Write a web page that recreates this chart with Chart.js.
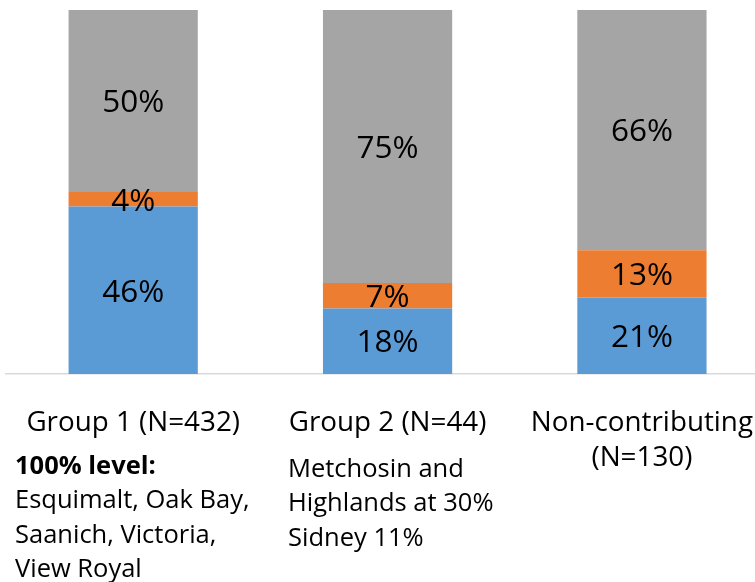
<!DOCTYPE html>
<html>
<head>
<meta charset="utf-8">
<script src="https://cdn.jsdelivr.net/npm/chart.js@4"></script>
<style>
  html, body { margin: 0; padding: 0; background: #fff; overflow: hidden; }
  #wrap { width: 776px; height: 582px; }
</style>
</head>
<body>
<div id="wrap"><canvas id="chart"></canvas></div>
<script>
/* participation by group, stacked to 100% */
const groups = ['Group 1 (N=432)', 'Group 2 (N=44)', ['Non-contributing', '(N=130)']];
const blueVals = [46, 18, 21];
const orangeVals = [4, 7, 13];
const grayVals = [50, 75, 66];

// notes printed under the first two groups
const noteHead1 = '100% level:';
const notes1 = ['Esquimalt, Oak Bay,', 'Saanich, Victoria,', 'View Royal'];
const notes2 = ['Metchosin and', 'Highlands at 30%', 'Sidney 11%'];

const FONT = '"Open Sans", sans-serif';

// percent labels centred in each segment
const valueLabels = {
  id: 'valueLabels',
  afterDatasetsDraw(chart) {
    const ctx = chart.ctx;
    const size = 31.5;
    ctx.save();
    ctx.font = size + 'px ' + FONT;
    ctx.fillStyle = '#000';
    ctx.textAlign = 'center';
    ctx.textBaseline = 'alphabetic';
    chart.data.datasets.forEach((ds, i) => {
      chart.getDatasetMeta(i).data.forEach((bar, j) => {
        const mid = (bar.y + bar.base) / 2;
        ctx.fillText(ds.data[j] + '%', bar.x, mid + size * 0.357);
      });
    });
    ctx.restore();
  }
};

// free text block under the axis labels
const groupNotes = {
  id: 'groupNotes',
  afterDraw(chart) {
    const ctx = chart.ctx;
    const step = 34.4;
    ctx.save();
    ctx.fillStyle = '#000';
    ctx.textAlign = 'left';
    ctx.textBaseline = 'alphabetic';
    ctx.font = 'bold 25.5px ' + FONT;
    ctx.fillText(noteHead1, 15, 474);
    ctx.font = '25.5px ' + FONT;
    notes1.forEach((t, i) => ctx.fillText(t, 15, 474 + step * (i + 1)));
    notes2.forEach((t, i) => ctx.fillText(t, 288, 477 + step * i));
    ctx.restore();
  }
};

new Chart(document.getElementById('chart'), {
  type: 'bar',
  data: {
    labels: groups,
    datasets: [
      { label: 'Full', data: blueVals, backgroundColor: '#5B9BD5' },
      { label: 'Partial', data: orangeVals, backgroundColor: '#ED7D31' },
      { label: 'None', data: grayVals, backgroundColor: '#A5A5A5' }
    ]
  },
  options: {
    responsive: true,
    maintainAspectRatio: false,
    animation: false,
    layout: { padding: { top: 10, left: 6, right: 0, bottom: 0 } },
    datasets: { bar: { categoryPercentage: 1, barPercentage: 0.508 } },
    plugins: { legend: { display: false }, tooltip: { enabled: false } },
    scales: {
      x: {
        stacked: true,
        grid: { display: false },
        border: { display: true, color: '#D9D9D9', width: 1.5 },
        ticks: { color: '#000', padding: 23, maxRotation: 0, autoSkip: false,
                 font: { family: FONT, size: 27.8, lineHeight: 1.27 } },
        afterFit(scale) { scale.height = 208; }
      },
      y: { stacked: true, display: false, min: 0, max: 100 }
    }
  },
  plugins: [valueLabels, groupNotes]
});
</script>
</body>
</html>
